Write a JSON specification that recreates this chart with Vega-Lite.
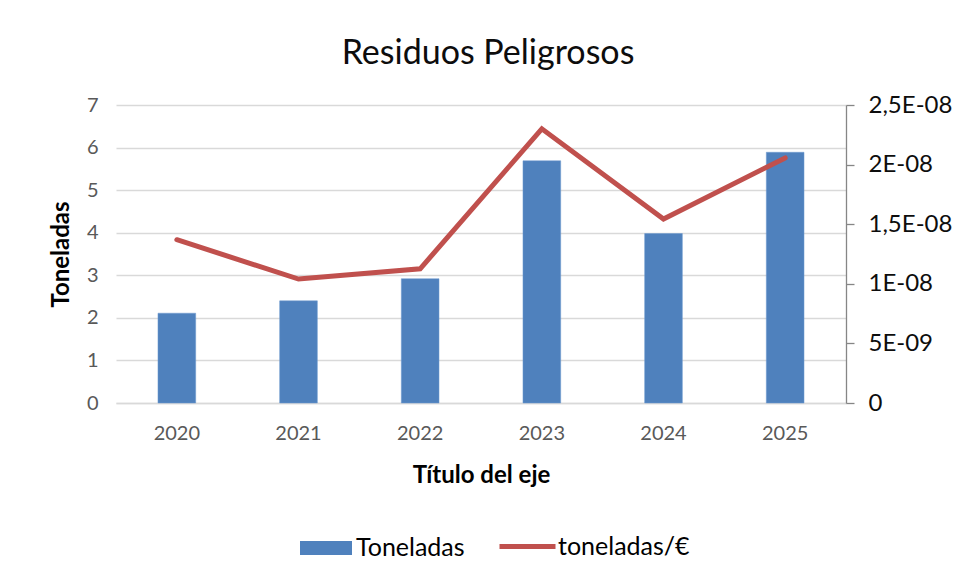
{
  "$schema": "https://vega.github.io/schema/vega-lite/v6.json",
  "autosize": "none",
  "width": 730,
  "height": 298,
  "padding": {"left": 116, "top": 105, "right": 118, "bottom": 179},
  "background": "white",
  "title": {
    "text": "Residuos Peligrosos",
    "fontSize": 34,
    "font": "Lato",
    "fontWeight": "normal",
    "color": "#0d0d0d",
    "anchor": "middle",
    "offset": 22,
    "dx": 7
  },
  "data": {
    "values": [
      {"year": "2020", "toneladas": 2.11, "ratio": 1.37e-8},
      {"year": "2021", "toneladas": 2.40, "ratio": 1.04e-8},
      {"year": "2022", "toneladas": 2.92, "ratio": 1.126e-8},
      {"year": "2023", "toneladas": 5.69, "ratio": 2.30e-8},
      {"year": "2024", "toneladas": 3.98, "ratio": 1.544e-8},
      {"year": "2025", "toneladas": 5.89, "ratio": 2.056e-8}
    ]
  },
  "encoding": {
    "x": {
      "field": "year",
      "type": "ordinal",
      "scale": {"paddingInner": 0.69, "paddingOuter": 0.345},
      "axis": {
        "title": "Título del eje",
        "labelAngle": 0,
        "ticks": false,
        "domainColor": "#d9d9d9",
        "domainWidth": 1.3,
        "labelPadding": 20,
        "titlePadding": 20
      }
    }
  },
  "layer": [
    {
      "mark": {"type": "bar", "stroke": "#6f9bd1", "strokeWidth": 0.5},
      "encoding": {
        "y": {
          "field": "toneladas",
          "type": "quantitative",
          "scale": {"domain": [0, 7], "nice": false},
          "axis": {
            "title": "Toneladas",
            "values": [0, 1, 2, 3, 4, 5, 6, 7],
            "ticks": false,
            "domain": false,
            "grid": true,
            "gridColor": "#d9d9d9",
            "gridWidth": 1.3,
            "labelPadding": 18,
            "titlePadding": 13
          }
        },
        "color": {
          "datum": "Toneladas",
          "scale": {"range": ["#4F81BD"]},
          "legend": {
            "title": null,
            "orient": "none",
            "legendX": 184,
            "legendY": 417,
            "symbolType": "M-1,-0.27H1V0.27H-1Z",
            "symbolSize": 2704,
            "symbolStrokeWidth": 0,
            "symbolOpacity": 1,
            "labelOffset": 4
          }
        }
      }
    },
    {
      "mark": {"type": "line", "strokeWidth": 5, "strokeCap": "round", "strokeJoin": "miter"},
      "encoding": {
        "y": {
          "field": "ratio",
          "type": "quantitative",
          "scale": {"domain": [0, 2.5e-8], "nice": false},
          "axis": {
            "orient": "right",
            "title": null,
            "grid": false,
            "values": [0, 5e-9, 1e-8, 1.5e-8, 2e-8, 2.5e-8],
            "labelExpr": "round(datum.value*1e9)==25?'2,5E-08':round(datum.value*1e9)==20?'2E-08':round(datum.value*1e9)==15?'1,5E-08':round(datum.value*1e9)==10?'1E-08':round(datum.value*1e9)==5?'5E-09':'0'",
            "labelFontSize": 24,
            "labelColor": "#0d0d0d",
            "domain": true,
            "domainColor": "#868686",
            "domainWidth": 1.3,
            "ticks": true,
            "tickColor": "#868686",
            "tickSize": 8,
            "tickWidth": 1.3,
            "labelPadding": 14
          }
        },
        "stroke": {
          "datum": "toneladas/€",
          "scale": {"range": ["#C0504D"]},
          "legend": {
            "title": null,
            "orient": "none",
            "legendX": 381,
            "legendY": 411,
            "symbolType": "stroke",
            "symbolSize": 3136,
            "symbolStrokeWidth": 5,
            "labelOffset": 0
          }
        }
      }
    }
  ],
  "resolve": {"scale": {"y": "independent"}},
  "config": {
    "view": {"stroke": null},
    "font": "Lato",
    "axis": {
      "labelFont": "Lato",
      "labelFontSize": 20,
      "labelColor": "#595959",
      "titleFont": "Lato",
      "titleFontSize": 24,
      "titleFontWeight": "bold",
      "titleColor": "#000000"
    },
    "legend": {
      "labelFont": "Lato",
      "labelFontSize": 25,
      "labelColor": "#000000",
      "padding": 0,
      "symbolStrokeColor": null
    }
  }
}
